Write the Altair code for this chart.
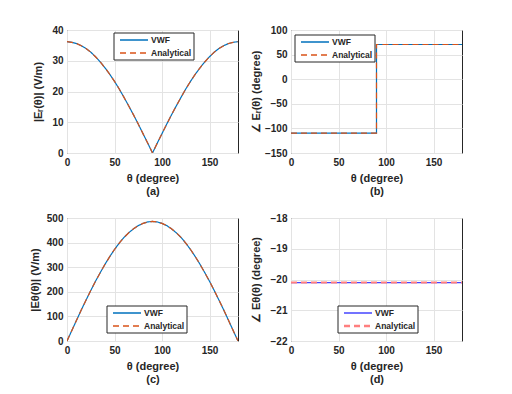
import altair as alt
import pandas as pd

# ---- data ----
theta5 = [0, 5, 10, 15, 20, 25, 30, 35, 40, 45, 50, 55, 60, 65, 70, 75, 80, 85, 90,
          95, 100, 105, 110, 115, 120, 125, 130, 135, 140, 145, 150, 155, 160, 165, 170, 175, 180]

er_mag = [36.2, 36.0, 35.6, 34.9, 34.0, 32.8, 31.3, 29.6, 27.7, 25.6, 23.3, 20.8, 18.1, 15.3, 12.4, 9.4, 6.3, 3.2, 0.0,
          3.2, 6.3, 9.4, 12.4, 15.3, 18.1, 20.8, 23.3, 25.6, 27.7, 29.6, 31.3, 32.8, 34.0, 34.9, 35.6, 36.0, 36.2]

eth_mag = [0, 42, 84, 126, 166, 205, 243, 278, 312, 343, 372, 398, 421, 440, 456, 469, 478, 484, 486,
           484, 478, 469, 456, 440, 421, 398, 372, 343, 312, 278, 243, 205, 166, 126, 84, 42, 0]

theta_step = [0, 90, 90, 180]
er_phase = [-109.5, -109.5, 70.5, 70.5]

theta_flat = [0, 180]
eth_phase = [-20.1, -20.1]

series = ["VWF", "Analytical"]


def long_df(xs, ys):
    rows = []
    for s in series:
        for i, (x, y) in enumerate(zip(xs, ys)):
            rows.append({"theta": x, "value": y, "series": s, "idx": i})
    return pd.DataFrame(rows)


FONT = "Liberation Sans"
W, H = 171, 123
DASHES = [[1, 0], [6, 4]]


def legend_layers(lx, ly, colors, widths):
    layers = [alt.Chart(pd.DataFrame({"k": [0]})).mark_rect(
        fill="white", stroke="#262626", strokeWidth=1).encode(
        x=alt.value(lx), x2=alt.value(lx + 80), y=alt.value(ly), y2=alt.value(ly + 27))]
    for i, s in enumerate(series):
        yy = ly + 7 + 13 * i
        sd = alt.Chart(pd.DataFrame({"series": [s]}))
        layers.append(sd.mark_rule(strokeDash=DASHES[i], strokeWidth=widths[i] + 0.3).encode(
            x=alt.value(lx + 6), x2=alt.value(lx + 34), y=alt.value(yy),
            color=alt.value(colors[i])))
        layers.append(sd.mark_text(align="left", baseline="middle", font=FONT, fontSize=8.5,
                                   fontWeight="bold", color="#262626").encode(
            x=alt.value(lx + 37), y=alt.value(yy), text="series:N"))
    return layers


def panel(df, ytitle, cap, ydom, yticks, colors, widths, lx, ly, ext):
    lines = alt.Chart(df).mark_line(clip=True).encode(
        x=alt.X("theta:Q", scale=alt.Scale(domain=[0, 180], nice=False, zero=False),
                axis=alt.Axis(values=[0, 50, 100, 150], title=["θ (degree)", cap],
                              labelFlush=False, grid=True, ticks=False, domain=False,
                              labelPadding=4, titlePadding=5, titleLineHeight=13)),
        y=alt.Y("value:Q", scale=alt.Scale(domain=ydom, nice=False, zero=False),
                axis=alt.Axis(values=yticks, title=ytitle, labelFlush=False, grid=True,
                              ticks=False, domain=False, labelPadding=4, titlePadding=3,
                              minExtent=ext, maxExtent=ext)),
        color=alt.Color("series:N", scale=alt.Scale(domain=series, range=colors), legend=None),
        strokeDash=alt.StrokeDash("series:N", scale=alt.Scale(domain=series, range=DASHES),
                                  legend=None),
        strokeWidth=alt.StrokeWidth("series:N", scale=alt.Scale(domain=series, range=widths),
                                    legend=None),
        order=alt.Order("idx:Q"),
    )
    return alt.layer(lines, *legend_layers(lx, ly, colors, widths)).properties(width=W, height=H)


c1 = ["#0072BD", "#D95319"]
c2 = ["#4545ff", "#ff7f7f"]

pa = panel(long_df(theta5, er_mag), "|Eᵣ(θ)| (V/m)", "(a)", [0, 40], [0, 10, 20, 30, 40],
           c1, [1.2, 1.2], 47, 3, 21)
pb = panel(long_df(theta_step, er_phase), "∠ Eᵣ(θ) (degree)", "(b)", [-150, 100],
           [-150, -100, -50, 0, 50, 100], c1, [1.2, 1.2], 4, 5, 27)
pc = panel(long_df(theta5, eth_mag), "|Eθ(θ)| (V/m)", "(c)", [0, 500], [0, 100, 200, 300, 400, 500],
           c1, [1.2, 1.2], 40, 88, 24)
pd_ = panel(long_df(theta_flat, eth_phase), "∠ Eθ(θ) (degree)", "(d)", [-22, -18],
            [-22, -21, -20, -19, -18], c2, [1.2, 2.0], 47, 88, 27)

chart = alt.concat(pa, pb, pc, pd_, columns=2, spacing={"row": 15, "column": 10}).properties(
    padding={"left": 20, "top": 16, "right": 5, "bottom": 5},
    background="white",
).configure_view(stroke="#262626", strokeWidth=1).configure_axis(
    gridColor="#e3e3e3", gridWidth=1, labelFont=FONT, labelFontSize=10, labelFontWeight="bold",
    labelColor="#262626", titleFont=FONT, titleFontSize=11, titleFontWeight="bold",
    titleColor="#262626",
).resolve_scale(color="independent", strokeDash="independent", strokeWidth="independent")

chart.save("out.html", embed_options={"renderer": "svg", "actions": False})
